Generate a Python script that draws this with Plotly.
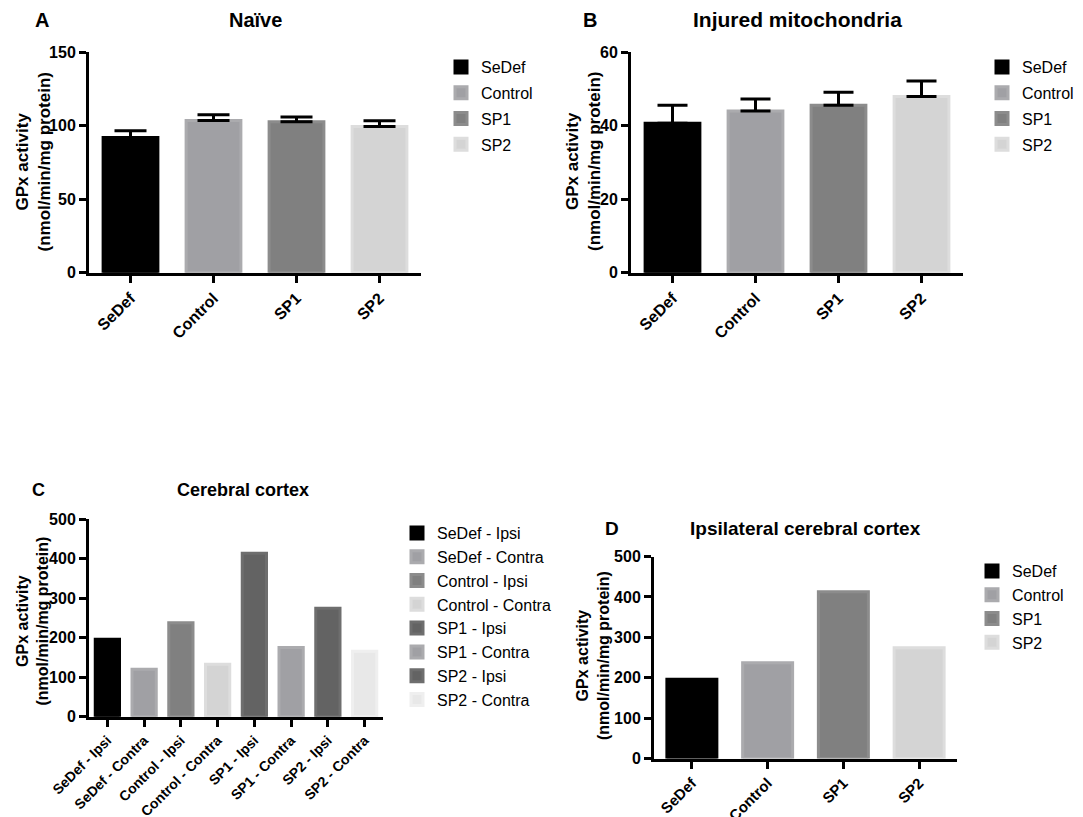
import plotly.graph_objects as go

W, H = 1083, 817

# ---------------- data ----------------
groups = ["SeDef", "Control", "SP1", "SP2"]
naive_vals = [92.0, 103.6, 102.7, 99.5]
naive_err = [4.6, 3.9, 3.3, 3.9]
mito_vals = [40.7, 44.0, 45.6, 48.0]
mito_err = [4.9, 3.3, 3.5, 4.2]
cortex_cats = ["SeDef - Ipsi", "SeDef - Contra", "Control - Ipsi", "Control - Contra",
               "SP1 - Ipsi", "SP1 - Contra", "SP2 - Ipsi", "SP2 - Contra"]
cortex_vals = [196, 120, 238, 133, 414, 175, 275, 166]
ipsi_vals = [196, 237, 413, 274]

# ---------------- styles ----------------
group_fill = ["#000000", "#a0a0a4", "#808080", "#d4d4d4"]
group_edge = ["#000000", "#ababae", "#8c8c8c", "#dddddd"]
cortex_fill = ["#000000", "#a0a0a4", "#808080", "#d4d4d4", "#636363", "#a0a0a4", "#636363", "#e8e8e8"]
cortex_edge = ["#000000", "#ababae", "#8c8c8c", "#dddddd", "#6e6e6e", "#ababae", "#6e6e6e", "#efefef"]

FONT = "Arial, Liberation Sans, sans-serif"


def px_x(p):
    return p / W


def px_y(p):
    return 1 - p / H


fig = go.Figure()


def add_bars(cats, vals, fills, edges, axis_idx, legend_name, errs=None, width=0.66, cap=16):
    sfx = "" if axis_idx == 1 else str(axis_idx)
    for i, c in enumerate(cats):
        kw = {}
        if errs is not None:
            kw["error_y"] = dict(type="data", symmetric=False, array=[errs[i]], arrayminus=[0],
                                 color="black", thickness=3, width=cap)
        fig.add_trace(go.Bar(
            x=[c], y=[vals[i]], name=c, width=width,
            marker=dict(color=fills[i], line=dict(color=edges[i], width=3)),
            xaxis="x" + sfx, yaxis="y" + sfx,
            legend=legend_name, legendgroup=legend_name + c,
            **kw))


add_bars(groups, naive_vals, group_fill, group_edge, 1, "legend", naive_err, 0.66, 16)
add_bars(groups, mito_vals, group_fill, group_edge, 2, "legend2", mito_err, 0.66, 15)
add_bars(cortex_cats, cortex_vals, cortex_fill, cortex_edge, 3, "legend3", None, 0.66)
add_bars(groups, ipsi_vals, group_fill, group_edge, 4, "legend4", None, 0.66)

tickfont_y = dict(family=FONT, size=16, color="black", weight="bold")


def xax(x0, x1, anchor, rng, fsize):
    return dict(domain=[px_x(x0), px_x(x1)], anchor=anchor, range=rng, automargin=False,
                showline=True, linewidth=3, linecolor="black", ticks="outside",
                ticklen=7, tickwidth=3, tickcolor="black", tickangle=-45,
                tickfont=dict(family=FONT, size=fsize, color="black", weight="bold"),
                showgrid=False, zeroline=False, fixedrange=True)


def yax(y0, y1, anchor, rng, dtick):
    return dict(domain=[px_y(y1), px_y(y0)], anchor=anchor, range=rng, dtick=dtick, automargin=False,
                showline=True, linewidth=3, linecolor="black", ticks="outside",
                ticklen=7, tickwidth=3, tickcolor="black",
                tickfont=tickfont_y, showgrid=False, zeroline=False, fixedrange=True)


# panel geometry in pixels (x0, x1, ytop, ybottom)
A = (89, 421, 52.3, 272.7)
B = (631, 963, 52.3, 272.7)
C = (89, 383, 519.3, 716.7)
D = (654, 957, 556.5, 758.5)

legend_common = dict(font=dict(family=FONT, size=16, color="black"), traceorder="grouped",
                     bgcolor="rgba(0,0,0,0)", borderwidth=0, xanchor="left", yanchor="top",
                     xref="container", yref="container",
                     itemclick=False, itemdoubleclick=False)

fig.update_layout(
    width=W, height=H, autosize=False,
    margin=dict(l=0, r=0, t=0, b=0, autoexpand=False),
    paper_bgcolor="white", plot_bgcolor="white",
    barmode="overlay",
    font=dict(family=FONT, color="black"),
    xaxis=xax(A[0], A[1], "y", [-0.5, 3.5], 16),
    yaxis=yax(A[2], A[3], "x", [0, 150], 50),
    xaxis2=xax(B[0], B[1], "y2", [-0.5, 3.5], 16),
    yaxis2=yax(B[2], B[3], "x2", [0, 60], 20),
    xaxis3=xax(C[0], C[1], "y3", [-0.5, 7.5], 14),
    yaxis3=yax(C[2], C[3], "x3", [0, 500], 100),
    xaxis4=xax(D[0], D[1], "y4", [-0.5, 3.5], 15),
    yaxis4=yax(D[2], D[3], "x4", [0, 500], 100),
    legend=dict(x=px_x(441), y=px_y(50), tracegroupgap=2, **legend_common),
    legend2=dict(x=px_x(982), y=px_y(50), tracegroupgap=2, **legend_common),
    legend3=dict(x=px_x(397), y=px_y(516), tracegroupgap=0, **legend_common),
    legend4=dict(x=px_x(972), y=px_y(554), tracegroupgap=0, **legend_common),
)

ann = []


def txt(x, y, s, size, bold=True, angle=0):
    ann.append(dict(x=px_x(x), y=px_y(y), xref="paper", yref="paper", text=s, showarrow=False,
                    textangle=angle, xanchor="center", yanchor="middle",
                    font=dict(family=FONT, size=size, color="black", weight="bold" if bold else "normal")))


ytitle = "GPx activity<br>(nmol/min/mg protein)"
# panel letters
txt(42, 20, "A", 20)
txt(590, 20, "B", 20)
txt(38, 490, "C", 18)
txt(612, 528, "D", 19)
# panel titles
txt(255, 20, "Naïve", 20)
txt(797, 20, "Injured mitochondria", 21)
txt(243, 490, "Cerebral cortex", 18)
txt(805, 528, "Ipsilateral cerebral cortex", 19)
# y axis titles
txt(32.5, 162, ytitle, 17, angle=-90)
txt(583, 162, ytitle, 17, angle=-90)
txt(32.5, 621, ytitle, 16, angle=-90)
txt(593, 656, ytitle, 16, angle=-90)

fig.update_layout(annotations=ann)

fig.write_html("out.html", config={"displayModeBar": False, "staticPlot": True},
               post_script="document.body.style.margin='0';")
